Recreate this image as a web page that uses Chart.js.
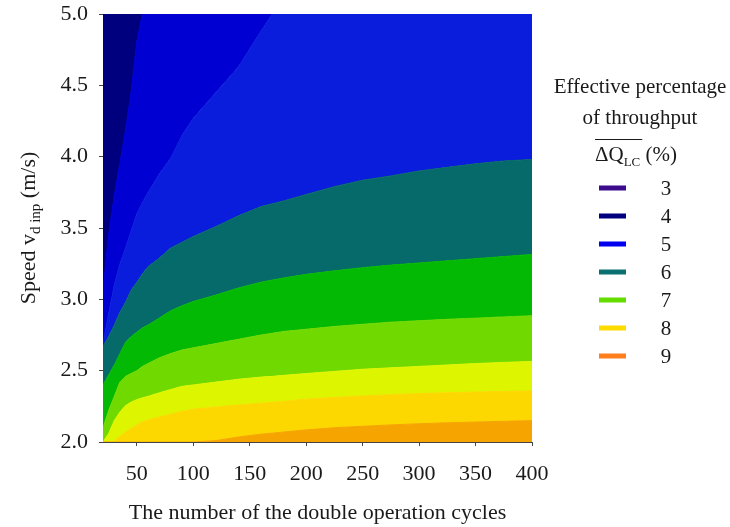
<!DOCTYPE html>
<html>
<head>
<meta charset="utf-8">
<script src="https://cdn.jsdelivr.net/npm/chart.js@4.4.1/dist/chart.umd.min.js"></script>
<style>
  html, body { margin: 0; padding: 0; background: #fff; }
  #wrap { width: 730px; height: 527px; }
</style>
</head>
<body>
<div id="wrap"><canvas id="contour" width="730" height="527"></canvas></div>
<script>
// number of double operation cycles, where the contour edges were read
const cycles = [20, 25, 30, 35, 40, 45, 50, 55, 60, 70, 80, 90, 100, 120, 140, 160, 170, 180, 200, 225, 250, 275, 300, 325, 350, 375, 400];

// upper edge (speed, m/s) of each filled band, bottom band first
const topOrange = [2.0, 2.0, 2.0, 2.0, 2.0, 2.0, 2.0, 2.0, 2.0, 2.0, 2.0, 2.0, 2.0, 2.01, 2.035, 2.055, 2.062, 2.07, 2.085, 2.1, 2.11, 2.12, 2.128, 2.135, 2.14, 2.145, 2.15];
const topGold = [2.0, 2.0, 2.005, 2.04, 2.07, 2.095, 2.12, 2.14, 2.155, 2.175, 2.195, 2.215, 2.23, 2.245, 2.26, 2.272, 2.278, 2.285, 2.30, 2.312, 2.323, 2.332, 2.34, 2.345, 2.35, 2.355, 2.358];
const topLime = [2.0, 2.06, 2.15, 2.21, 2.255, 2.28, 2.297, 2.31, 2.32, 2.345, 2.368, 2.39, 2.40, 2.42, 2.44, 2.455, 2.46, 2.467, 2.48, 2.495, 2.51, 2.52, 2.53, 2.54, 2.55, 2.558, 2.565];
const topYellowGreen = [2.10, 2.22, 2.32, 2.42, 2.46, 2.48, 2.50, 2.53, 2.55, 2.59, 2.62, 2.645, 2.66, 2.69, 2.72, 2.75, 2.762, 2.775, 2.79, 2.81, 2.825, 2.84, 2.85, 2.86, 2.868, 2.877, 2.885];
const topGreen = [2.40, 2.47, 2.54, 2.62, 2.70, 2.74, 2.77, 2.80, 2.82, 2.87, 2.92, 2.955, 2.985, 3.03, 3.08, 3.12, 3.135, 3.15, 3.175, 3.2, 3.222, 3.24, 3.255, 3.27, 3.285, 3.30, 3.315];
const topTeal = [2.67, 2.74, 2.82, 2.91, 2.98, 3.065, 3.12, 3.18, 3.23, 3.29, 3.36, 3.40, 3.44, 3.51, 3.585, 3.65, 3.67, 3.69, 3.735, 3.79, 3.835, 3.865, 3.90, 3.925, 3.95, 3.97, 3.98];
const topLightBlue = [2.69, 2.90, 3.10, 3.25, 3.36, 3.48, 3.60, 3.68, 3.75, 3.88, 3.99, 4.15, 4.27, 4.45, 4.63, 4.88, 5.0, 5.0, 5.0, 5.0, 5.0, 5.0, 5.0, 5.0, 5.0, 5.0, 5.0];
const topBlue = [3.05, 3.45, 3.72, 3.95, 4.18, 4.45, 4.8, 5.0, 5.0, 5.0, 5.0, 5.0, 5.0, 5.0, 5.0, 5.0, 5.0, 5.0, 5.0, 5.0, 5.0, 5.0, 5.0, 5.0, 5.0, 5.0, 5.0];

const bandColors = ['#f6a400', '#fdd800', '#def500', '#70d900', '#04b904', '#066a6a', '#0a1cdc', '#0000d3', '#00007e'];

const xTicks = [50, 100, 150, 200, 250, 300, 350, 400];
const yTicks = [2.0, 2.5, 3.0, 3.5, 4.0, 4.5, 5.0];

const xTitle = "The number of the double operation cycles";
const yTitle = ["Speed v", "d inp", " (m/s)"];

const legendTitle = ["Effective percentage", "of throughput"];
const legendSymbol = ["\u0394Q", "LC", " (%)"];
const legendLevels = [3, 4, 5, 6, 7, 8, 9];
const legendColors = ['#3d0c8c', '#00007f', '#0000ee', '#0b7070', '#66dd00', '#ffdc00', '#ff7f1e'];

const SERIF = '"Liberation Serif", "Times New Roman", serif';
const INK = '#1a1a1a';

const edges = [topOrange, topGold, topLime, topYellowGreen, topGreen, topTeal, topLightBlue, topBlue];

const datasets = edges.map((edge, i) => ({
  data: edge.map((v, j) => ({ x: cycles[j], y: v })),
  fill: i === 0 ? 'start' : '-1',
  backgroundColor: bandColors[i],
  borderColor: bandColors[i],
  borderWidth: 1,
  pointRadius: 0,
  tension: 0
}));
// the navy band sits above the last edge
datasets.push({
  data: topBlue.map((v, j) => ({ x: cycles[j], y: v })),
  fill: 'end',
  backgroundColor: bandColors[8],
  borderColor: bandColors[7],
  borderWidth: 1,
  pointRadius: 0,
  tension: 0
});

// text pieces, the middle one is a subscript; x is the left start
function drawPieces(ctx, pieces, x, y, big, small) {
  pieces.forEach((p, i) => {
    const sub = i === 1;
    ctx.font = (sub ? small : big) + 'px ' + SERIF;
    ctx.fillText(p, x, sub ? y + 5 : y);
    x += ctx.measureText(p).width;
  });
}

function piecesWidth(ctx, pieces, big, small, upto) {
  let w = 0;
  pieces.forEach((p, i) => {
    if (upto !== undefined && i >= upto) return;
    ctx.font = (i === 1 ? small : big) + 'px ' + SERIF;
    w += ctx.measureText(p).width;
  });
  return w;
}

const annotate = {
  id: 'annotate',
  afterDraw(chart) {
    const ctx = chart.ctx;
    const area = chart.chartArea;
    ctx.save();
    ctx.fillStyle = INK;
    ctx.textBaseline = 'alphabetic';

    // x axis title
    ctx.textAlign = 'center';
    ctx.font = '22px ' + SERIF;
    ctx.fillText(xTitle, (area.left + area.right) / 2, 519);

    // y axis title, rotated, with subscript
    ctx.textAlign = 'left';
    ctx.save();
    ctx.translate(35, (area.top + area.bottom) / 2);
    ctx.rotate(-Math.PI / 2);
    const yw = piecesWidth(ctx, yTitle, 22, 15);
    drawPieces(ctx, yTitle, -yw / 2, 0, 22, 15);
    ctx.restore();

    // legend
    const cx = 640;
    ctx.textAlign = 'center';
    ctx.font = '21px ' + SERIF;
    ctx.fillText(legendTitle[0], cx, 93);
    ctx.fillText(legendTitle[1], cx, 124);

    ctx.textAlign = 'left';
    const sw = piecesWidth(ctx, legendSymbol, 21, 13);
    const sx = cx - 4 - sw / 2;
    drawPieces(ctx, legendSymbol, sx, 161, 21, 13);
    const barW = piecesWidth(ctx, legendSymbol, 21, 13, 2);
    ctx.strokeStyle = INK;
    ctx.lineWidth = 1;
    ctx.beginPath();
    ctx.moveTo(sx, 139.5);
    ctx.lineTo(sx + barW + 2, 139.5);
    ctx.stroke();

    ctx.font = '21px ' + SERIF;
    ctx.textAlign = 'center';
    ctx.textBaseline = 'middle';
    legendLevels.forEach((lv, i) => {
      const y = 188 + 28 * i;
      ctx.fillStyle = legendColors[i];
      ctx.fillRect(599, y - 2.5, 27, 5);
      ctx.fillStyle = INK;
      ctx.fillText(String(lv), 666, y + 1);
    });
    ctx.restore();
  }
};

new Chart(document.getElementById('contour'), {
  type: 'line',
  data: { datasets },
  options: {
    responsive: false,
    animation: false,
    devicePixelRatio: 1,
    layout: { padding: { left: 0, right: 198, top: 14, bottom: 0 } },
    plugins: {
      legend: { display: false },
      tooltip: { enabled: false },
      filler: { propagate: false }
    },
    scales: {
      x: {
        type: 'linear',
        min: 20,
        max: 400,
        z: 1,
        afterBuildTicks: s => { s.ticks = xTicks.map(v => ({ value: v })); },
        afterFit: s => { s.height = 85; s.paddingLeft = 0; s.paddingRight = 0; },
        ticks: {
          color: INK,
          font: { family: SERIF, size: 22 },
          padding: 15,
          maxRotation: 0,
          callback: v => String(v)
        },
        grid: { display: true, drawOnChartArea: false, drawTicks: true, tickLength: 4, color: '#444' },
        border: { display: true, color: '#444', width: 1 }
      },
      y: {
        type: 'linear',
        min: 2,
        max: 5,
        z: 1,
        afterBuildTicks: s => { s.ticks = yTicks.map(v => ({ value: v })); },
        afterFit: s => { s.width = 103; s.paddingTop = 0; s.paddingBottom = 0; },
        ticks: {
          color: INK,
          font: { family: SERIF, size: 22 },
          padding: 11,
          callback: v => Number(v).toFixed(1)
        },
        grid: { display: true, drawOnChartArea: false, drawTicks: true, tickLength: 4, color: '#444' },
        border: { display: true, color: '#444', width: 1 }
      }
    }
  },
  plugins: [annotate]
});
</script>
</body>
</html>
